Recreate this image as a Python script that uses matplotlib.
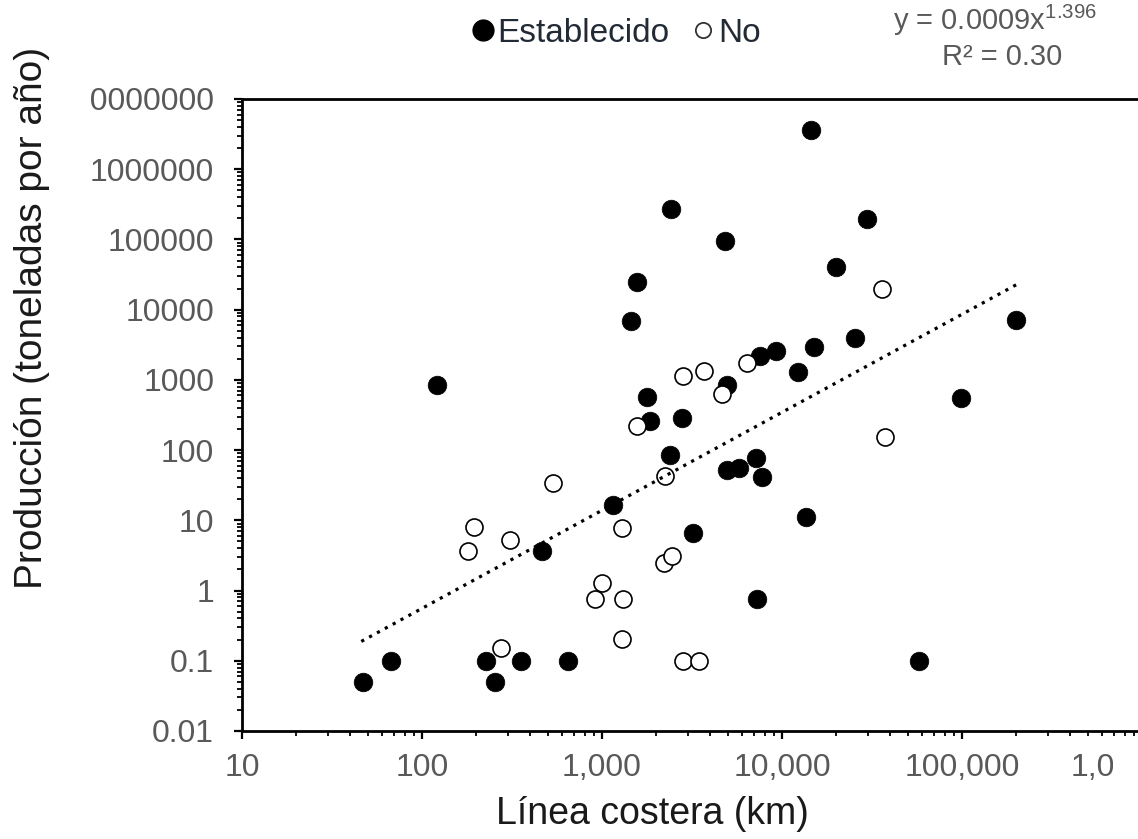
import matplotlib
matplotlib.use("Agg")
import matplotlib.pyplot as plt
import numpy as np
from matplotlib.lines import Line2D
from matplotlib.ticker import LogLocator, NullFormatter
from matplotlib.transforms import Bbox, TransformedBbox

plt.rcParams['font.family'] = ['Liberation Sans', 'DejaVu Sans']
plt.rcParams['mathtext.fontset'] = 'custom'
plt.rcParams['mathtext.rm'] = 'Liberation Sans'

# ---------------- data ----------------
est_x = [47, 67, 121, 227, 254, 355, 462, 650, 1157, 1442, 1571, 1786, 1848,
         2387, 2417, 2793, 3190, 4840, 4970, 4970, 5795, 7170, 7260, 7550,
         7780, 9270, 12330, 13600, 14400, 15060, 20000, 25500, 29500, 57700,
         98400, 199500]
est_y = [0.05, 0.1, 850, 0.1, 0.05, 0.1, 3.7, 0.1, 16.6, 7000, 25000, 574, 258,
         86, 270000, 283, 6.5, 96000, 838, 51.8, 55.5, 77.5, 0.77, 2190,
         41, 2570, 1283, 11.1, 3660000, 2980, 40400, 3900, 193000, 0.1,
         560, 7020]

no_x = [179, 194, 275, 308, 536, 914, 995, 1291, 1291, 1313, 1571, 2218, 2240,
        2437, 2805, 2805, 3460, 3700, 4620, 6410, 35900, 37300]
no_y = [3.66, 8.0, 0.154, 5.2, 33.8, 0.77, 1.27, 7.7, 0.206, 0.77, 217, 2.45,
        42.4, 3.1, 1150, 0.1, 0.1, 1318, 632, 1722, 19400, 155]

fit_a = 0.0009
fit_b = 1.396
fit_x_range = [46, 200000]

legend_labels = ['Establecido', 'No']
eq_text = r'y = 0.0009x$^{\mathregular{1.396}}$'
r2_text = 'R² = 0.30'

x_ticks = [10, 100, 1000, 10000, 100000, 1000000]
x_ticklabels = ['10', '100', '1,000', '10,000', '100,000', '1,000,000']
y_ticks = [0.01, 0.1, 1, 10, 100, 1000, 10000, 100000, 1000000, 10000000]
y_ticklabels = ['0.01', '0.1', '1', '10', '100', '1000', '10000', '100000',
                '1000000', '10000000']

xlabel = 'Línea costera (km)'
ylabel = 'Producción (toneladas por año)'

# ---------------- figure ----------------
W, H = 1138, 839
fig = plt.figure(figsize=(W / 100, H / 100), dpi=100)
ax = fig.add_axes([242 / W, (H - 731) / H, 900 / W, 632 / H])
ax.set_xscale('log')
ax.set_yscale('log')

ax.scatter(est_x, est_y, s=180, c='black', edgecolors='black', linewidths=0.5,
           zorder=3)
ax.scatter(no_x, no_y, s=150, c='white', edgecolors='black', linewidths=1.2,
           zorder=4)

fx = np.logspace(np.log10(fit_x_range[0]), np.log10(fit_x_range[1]), 300)
fy = fit_a * fx ** fit_b
ax.plot(fx, fy, color='black', lw=2.3, linestyle=(0, (1, 1.8)), zorder=5)

ax.set_xticks(x_ticks, x_ticklabels)
ax.set_yticks(y_ticks, y_ticklabels)
ax.xaxis.set_minor_locator(LogLocator(base=10, subs=np.arange(2, 10), numticks=100))
ax.yaxis.set_minor_locator(LogLocator(base=10, subs=np.arange(2, 10), numticks=100))
ax.xaxis.set_minor_formatter(NullFormatter())
ax.yaxis.set_minor_formatter(NullFormatter())
ax.set_xlim(10, 1e6)
ax.set_ylim(0.01, 1e7)

ax.tick_params(which='major', direction='out', length=6, width=1.6,
               colors='black', labelcolor='#595959', labelsize=23)
ax.tick_params(axis='y', which='major', pad=14)
ax.tick_params(axis='x', which='major', pad=10)
ax.tick_params(which='minor', direction='out', length=3.5, width=1.3, colors='black')

for s in ['left', 'bottom', 'top']:
    ax.spines[s].set_linewidth(2.0)
    ax.spines[s].set_color('black')
ax.spines['right'].set_visible(False)

ax.set_xlabel(xlabel, fontsize=27, color='#1a1a1a', va='center')
ax.xaxis.set_label_coords((652 - 242) / 900, (731 - 814) / 632)
ax.set_ylabel(ylabel, fontsize=28, color='#1a1a1a', va='center')
ax.yaxis.set_label_coords((32 - 242) / 900, (731 - 318) / 632)

# clip partially visible tick labels as in the reference crop
for lab in ax.get_xticklabels():
    if lab.get_text() == '1,000,000':
        lab.set_clip_box(TransformedBbox(Bbox([[0, 0], [1113 / W, 1]]), fig.transFigure))
        lab.set_clip_on(True)
for lab in ax.get_yticklabels():
    if lab.get_text() == '10000000':
        lab.set_clip_box(TransformedBbox(Bbox([[91 / W, 0], [1, 1]]), fig.transFigure))
        lab.set_clip_on(True)

handles = [Line2D([], [], marker='o', ls='', mfc='black', mec='black', ms=15),
           Line2D([], [], marker='o', ls='', mfc='white', mec='#333333', ms=11, mew=1.3)]
fig.legend(handles, legend_labels, loc='center', bbox_to_anchor=(615 / W, 1 - 33 / H),
           ncol=2, frameon=False, fontsize=24, handletextpad=0.05, columnspacing=0.6,
           handlelength=0.8, labelcolor='#222a35', borderaxespad=0)

fig.text(995 / W, 1 - 20 / H, eq_text, ha='center', va='center', fontsize=21,
         color='#595959')
fig.text(1002 / W, 1 - 57 / H, r2_text, ha='center', va='center', fontsize=21,
         color='#595959')

fig.savefig('out.png', dpi=100)
